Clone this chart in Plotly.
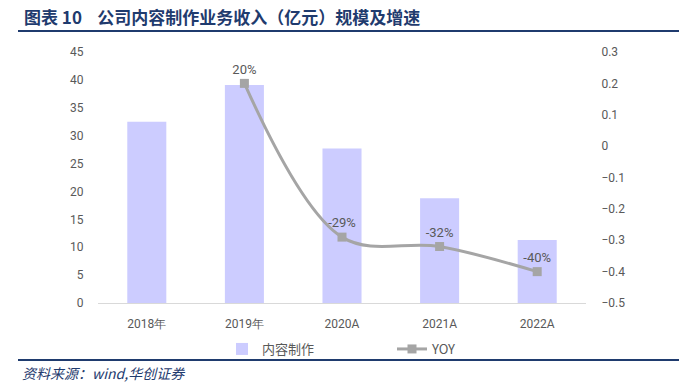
import plotly.graph_objects as go

categories = ["2018年", "2019年", "2020A", "2021A", "2022A"]
revenue = [32.5, 39.1, 27.7, 18.8, 11.3]
yoy_x = ["2019年", "2020A", "2021A", "2022A"]
yoy = [0.20, -0.29, -0.32, -0.40]
yoy_labels = ["20%", "-29%", "-32%", "-40%"]

L, R, T, B = 98, 93, 52, 83
W, H = 679, 386
PW, PH = W - L - R, H - T - B


def px_x(x):
    return (x - L) / PW


def px_y(y):
    return (H - B - y) / PH


fig = go.Figure()
fig.add_trace(go.Bar(x=categories, y=revenue, name="内容制作",
                     marker=dict(color="#ccccff", line=dict(width=0)),
                     width=0.4, yaxis="y"))
fig.add_trace(go.Scatter(x=yoy_x, y=yoy, name="YOY", yaxis="y2",
                         mode="lines+markers+text",
                         line=dict(color="#a5a5a5", width=3, shape="spline", smoothing=1.0),
                         marker=dict(symbol="square", size=9, color="#a5a5a5"),
                         text=yoy_labels, textposition="top center",
                         textfont=dict(size=13, color="#595959", family="Roboto")))

tickfont = dict(size=12, color="#595959", family="Roboto")
fig.update_layout(
    width=W, height=H,
    margin=dict(l=L, r=R, t=T, b=B, autoexpand=False),
    plot_bgcolor="white", paper_bgcolor="white",
    xaxis=dict(showgrid=False, showline=True, linecolor="#d9d9d9", linewidth=1,
               tickfont=tickfont, ticks="outside", ticklen=10, tickcolor="rgba(0,0,0,0)"),
    yaxis=dict(range=[0, 45], dtick=5, showgrid=False, zeroline=False,
               tickfont=tickfont, ticks="outside", ticklen=11, tickcolor="rgba(0,0,0,0)"),
    yaxis2=dict(range=[-0.5, 0.3], dtick=0.1, overlaying="y", side="right",
                showgrid=False, zeroline=False, tickfont=tickfont,
                ticks="outside", ticklen=12, tickcolor="rgba(0,0,0,0)", tickformat=".1~f"),
    legend=dict(orientation="h", xref="container", yref="container",
                x=222 / W, xanchor="left", y=1 - 349 / H, yanchor="middle",
                bgcolor="rgba(0,0,0,0)",
                font=dict(size=13, color="#595959", family="Noto Sans CJK SC"),
                entrywidth=125, entrywidthmode="pixels"),
    showlegend=True,
)

fig.add_annotation(xref="paper", yref="paper", x=px_x(22), y=px_y(17),
                   xanchor="left", yanchor="middle", showarrow=False,
                   text="<b>图表 10&nbsp;&nbsp;&nbsp;&nbsp;公司内容制作业务收入（亿元）规模及增速</b>",
                   font=dict(size=17, color="#1f3b6e", family="Noto Sans CJK SC"))
fig.add_annotation(xref="paper", yref="paper", x=px_x(20), y=px_y(373),
                   xanchor="left", yanchor="middle", showarrow=False,
                   text="<i>资料来源：wind,华创证券</i>",
                   font=dict(size=14, color="#1f3b6e", family="Noto Sans CJK SC"))
for yy in (31, 360):
    fig.add_shape(type="line", xref="paper", yref="paper",
                  x0=px_x(18), x1=px_x(679), y0=px_y(yy), y1=px_y(yy),
                  line=dict(color="#1f3b6e", width=2))

fig.write_html("out.html", config={"displayModeBar": False},
               post_script="document.body.style.margin='0';")
